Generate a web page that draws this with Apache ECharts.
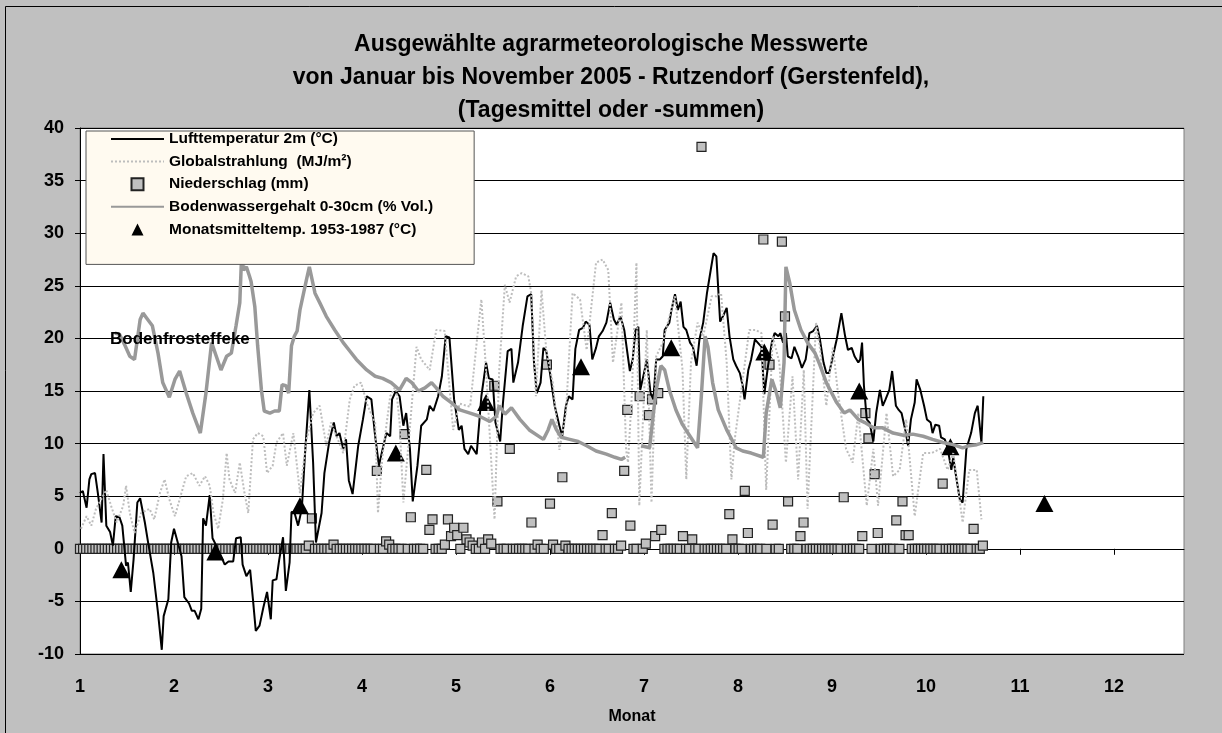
<!DOCTYPE html>
<html>
<head>
<meta charset="utf-8">
<title>Rutzendorf 2005</title>
<script src="https://cdn.jsdelivr.net/npm/echarts@6/dist/echarts.min.js"></script>
<style>
  html, body { margin: 0; padding: 0; background: #c0c0c0; }
  #chart { width: 1222px; height: 733px; }
</style>
</head>
<body>
<div id="chart"></div>
<script>
// Lufttemperatur 2m (°C) – [Monat, Wert]
var lufttemp = [
  [1.00,5.3],[1.03,5.5],[1.07,3.9],[1.10,6.6],[1.12,7.1],[1.16,7.2],[1.19,5.3],[1.23,2.5],[1.25,9.0],[1.28,2.2],
  [1.32,1.6],[1.35,0.3],[1.38,3.1],[1.42,3.0],[1.45,2.2],[1.49,-1.6],[1.51,-1.3],[1.54,-4.1],[1.57,-1.0],[1.61,4.4],
  [1.64,4.8],[1.69,2.5],[1.73,0.3],[1.78,-2.3],[1.83,-6.1],[1.87,-9.6],[1.89,-6.4],[1.94,-4.8],[1.97,0.6],[2.00,1.9],
  [2.04,0.6],[2.08,-0.7],[2.11,-4.6],[2.16,-5.2],[2.19,-5.9],[2.22,-5.9],[2.26,-6.7],[2.29,-5.7],[2.31,2.9],[2.34,2.2],
  [2.38,5.1],[2.41,1.0],[2.45,0.3],[2.49,-0.5],[2.54,-1.5],[2.58,-1.2],[2.63,-1.2],[2.66,1.0],[2.71,1.1],[2.73,-1.5],
  [2.77,-2.6],[2.81,-2.0],[2.84,-4.8],[2.87,-7.8],[2.91,-7.3],[2.95,-5.6],[2.99,-4.1],[3.03,-6.7],[3.05,-3.0],[3.09,-2.9],
  [3.12,-1.0],[3.16,1.1],[3.19,-4.0],[3.23,-1.3],[3.25,3.5],[3.28,3.5],[3.32,2.2],[3.36,3.8],[3.39,8.5],[3.44,15.1],
  [3.48,8.2],[3.51,0.6],[3.53,0.6],[3.57,3.4],[3.60,7.2],[3.65,10.1],[3.70,12.0],[3.73,10.7],[3.76,11.0],[3.80,9.5],
  [3.83,10.4],[3.86,6.5],[3.90,5.2],[3.96,9.8],[4.01,12.3],[4.05,14.5],[4.10,14.2],[4.14,10.7],[4.18,7.9],[4.22,9.5],
  [4.26,11.0],[4.30,10.7],[4.32,14.2],[4.36,15.0],[4.40,14.5],[4.44,11.7],[4.47,12.9],[4.51,9.5],[4.54,4.5],[4.59,7.9],
  [4.63,11.7],[4.69,12.3],[4.72,13.6],[4.76,13.1],[4.81,14.5],[4.85,16.4],[4.89,20.2],[4.93,20.1],[4.98,14.2],[5.03,11.3],
  [5.06,11.7],[5.09,9.5],[5.13,9.0],[5.16,9.8],[5.22,9.0],[5.27,14.5],[5.32,17.7],[5.35,16.2],[5.39,16.1],[5.42,12.0],
  [5.47,10.2],[5.50,13.9],[5.55,18.8],[5.59,19.0],[5.61,15.8],[5.66,17.7],[5.71,21.2],[5.76,24.0],[5.80,24.2],[5.83,17.7],
  [5.86,14.8],[5.90,15.8],[5.93,19.1],[5.96,18.8],[6.00,16.7],[6.05,13.6],[6.10,11.7],[6.13,10.7],[6.17,13.6],[6.20,14.5],
  [6.24,14.2],[6.27,19.0],[6.31,20.8],[6.35,21.0],[6.38,21.6],[6.42,21.3],[6.45,18.0],[6.49,19.1],[6.52,20.2],[6.56,20.7],
  [6.60,21.5],[6.64,23.4],[6.68,21.8],[6.71,21.3],[6.75,22.1],[6.79,20.8],[6.85,16.9],[6.88,18.0],[6.91,20.8],[6.94,21.1],
  [6.96,15.1],[7.00,16.7],[7.03,18.0],[7.07,14.8],[7.10,14.2],[7.13,18.0],[7.17,18.0],[7.20,18.3],[7.22,20.8],[7.27,21.5],
  [7.29,22.6],[7.33,24.2],[7.36,22.7],[7.39,23.5],[7.42,21.1],[7.45,20.8],[7.49,19.6],[7.52,19.2],[7.56,17.4],[7.59,19.9],
  [7.63,21.5],[7.67,24.3],[7.71,26.5],[7.74,28.1],[7.77,27.8],[7.81,21.6],[7.84,22.1],[7.88,22.9],[7.91,20.2],[7.95,18.0],
  [7.98,17.4],[8.02,16.7],[8.05,15.5],[8.07,14.2],[8.11,17.0],[8.14,18.0],[8.18,19.9],[8.21,19.6],[8.25,19.2],[8.28,14.7],
  [8.32,17.4],[8.36,19.6],[8.39,20.5],[8.43,20.2],[8.45,20.5],[8.48,19.6],[8.51,20.5],[8.53,18.3],[8.57,18.1],[8.60,19.2],
  [8.64,18.3],[8.68,17.2],[8.72,18.0],[8.76,20.5],[8.80,20.7],[8.84,21.2],[8.87,20.0],[8.91,17.7],[8.94,16.7],[8.97,16.7],
  [9.01,18.3],[9.05,19.9],[9.10,22.4],[9.14,20.2],[9.17,18.9],[9.21,19.1],[9.24,18.3],[9.28,17.7],[9.30,18.0],[9.32,19.6],
  [9.34,15.5],[9.37,12.3],[9.40,12.0],[9.44,10.2],[9.47,12.9],[9.51,15.1],[9.54,13.6],[9.57,14.2],[9.61,15.1],[9.64,16.9],
  [9.68,13.6],[9.71,13.2],[9.74,12.9],[9.78,11.3],[9.81,9.8],[9.84,12.3],[9.88,13.9],[9.90,16.1],[9.94,15.1],[9.98,13.6],
  [10.01,12.3],[10.05,12.0],[10.07,11.0],[10.10,11.8],[10.14,11.7],[10.16,10.6],[10.20,10.4],[10.23,9.6],[10.27,7.5],[10.29,8.7],
  [10.32,6.9],[10.36,4.7],[10.39,4.4],[10.43,9.5],[10.48,11.0],[10.52,12.9],[10.55,13.6],[10.59,10.1],[10.61,14.5]
];

// Globalstrahlung (MJ/m²)
var globalstrahlung = [
  [1.01,1.9],[1.07,3.1],[1.12,2.2],[1.17,3.8],[1.28,5.6],[1.33,4.1],[1.39,2.5],[1.46,4.1],[1.49,6.0],[1.53,3.4],
  [1.58,1.5],[1.65,3.4],[1.74,3.8],[1.79,2.8],[1.85,5.3],[1.90,6.6],[1.95,4.7],[2.01,3.1],[2.06,4.7],[2.13,6.9],
  [2.20,7.2],[2.27,6.0],[2.33,6.9],[2.38,6.0],[2.42,3.4],[2.47,1.9],[2.52,4.7],[2.56,9.1],[2.59,6.6],[2.65,5.3],
  [2.70,8.2],[2.75,5.3],[2.79,3.4],[2.84,10.4],[2.89,11.0],[2.95,10.7],[2.99,7.2],[3.05,7.9],[3.09,10.1],[3.16,11.0],
  [3.20,7.9],[3.27,11.0],[3.34,5.3],[3.41,10.4],[3.48,12.9],[3.55,13.6],[3.62,9.8],[3.67,12.0],[3.73,10.7],[3.80,9.1],
  [3.87,14.2],[3.92,15.5],[3.99,15.8],[4.06,13.6],[4.14,12.0],[4.17,3.4],[4.22,9.0],[4.30,14.5],[4.36,15.5],[4.40,12.0],
  [4.44,4.4],[4.50,10.5],[4.58,19.2],[4.63,18.0],[4.72,17.0],[4.79,20.8],[4.88,20.7],[4.97,11.3],[5.04,13.8],[5.15,13.5],
  [5.22,19.6],[5.27,23.7],[5.32,17.0],[5.41,2.8],[5.46,17.0],[5.52,25.1],[5.57,23.4],[5.64,25.9],[5.70,26.2],[5.77,25.9],
  [5.80,24.3],[5.85,14.5],[5.91,24.6],[5.96,18.9],[6.03,15.8],[6.10,9.4],[6.17,12.9],[6.24,24.3],[6.32,23.7],[6.39,18.9],
  [6.49,27.2],[6.56,27.5],[6.62,26.5],[6.67,17.7],[6.76,23.4],[6.81,9.4],[6.83,8.2],[6.87,14.5],[6.92,27.2],[6.95,4.1],
  [7.03,20.8],[7.08,4.4],[7.13,18.3],[7.20,19.6],[7.27,22.1],[7.33,24.0],[7.41,17.0],[7.45,6.6],[7.50,17.7],[7.57,21.5],
  [7.63,20.2],[7.72,24.0],[7.77,24.0],[7.82,24.3],[7.88,17.7],[7.93,6.6],[7.97,10.7],[8.12,20.8],[8.19,20.8],[8.25,20.5],
  [8.30,5.6],[8.37,20.2],[8.44,17.7],[8.51,8.2],[8.58,16.4],[8.64,6.6],[8.70,17.0],[8.74,3.8],[8.83,21.5],[8.87,19.2],
  [8.94,13.6],[9.01,19.2],[9.06,15.1],[9.15,9.5],[9.22,8.2],[9.28,12.9],[9.37,4.1],[9.44,9.5],[9.49,4.1],[9.58,12.9],
  [9.65,6.9],[9.72,7.5],[9.79,12.3],[9.88,3.1],[9.97,9.1],[10.06,9.1],[10.15,9.5],[10.23,7.5],[10.29,9.1],[10.39,2.5],
  [10.46,7.5],[10.54,7.5],[10.59,2.8]
];

// Niederschlag (mm), ein Wert pro Tag ab 1. Januar
var niederschlag = [
  0,0,0,0,0,0,0,0,0,0,  0,0,0,0,0,0,0,0,0,0,  0,0,0,0,0,0,0,0,0,0,
  0,0,0,0,0,0,0,0,0,0,  0,0,0,0,0,0,0,0,0,0,  0,0,0,0,0,0,0,0,0,0,
  0,0,0,0,0,0,0,0,0,0,  0,0,0,0,0.3,2.9,0,0,0,0,  0,0,0.4,0,0,0,0,0,0,0,
  0,0,0,0,0,0,7.4,0,0,0.7,  0.4,0,0,0,0,10.9,0,3.0,0,0,  0,0,7.5,1.8,2.8,0,0,0,0.4,2.8,
  1.2,2.0,1.3,0,2.0,0.9,0.6,0.3,0,0,  0.6,0,0.9,0.5,15.5,4.5,0,0,0,9.5,  0,0,0,0,0,0,2.5,0,0.4,0,
  0,17.5,4.3,0.4,0,0,6.8,0.3,0,0,  0,0,0,0,0,0,0,0,0,1.3,  0,0,3.4,0,0,0.3,7.4,13.2,2.2,0,
  0,14.5,0,0.5,12.7,14.2,1.2,14.8,1.8,0,  0,0,0,0,0,1.2,0,0,0.9,0,  0,38.2,0,0,0,0,0,0,0,0,
  3.3,0.9,0,0,0,5.5,1.5,0,0,0,  0,29.4,0,17.5,2.3,0,0,29.2,22.1,4.5,  0,0,0,1.2,2.5,0,0,0,0,0,
  0,0,0,0,0,0,0,4.9,0,0,  0,0,0,1.2,12.9,10.5,0,7.1,1.5,0,  0,0,0,0,2.7,0,4.5,1.3,1.3,0,
  0,0,0,0,0,0,0,0,0,6.2,  0,0,0,0,0,0,0,0,0,1.9,  0,0,0.3
];
var tageProMonat = 30.4;

// Bodenwassergehalt 0-30cm (% Vol.)
var bodenwasser = [
  [1.37,20.5],[1.42,20.4],[1.48,19.3],[1.53,18.3],[1.58,18.0],[1.64,21.8],[1.67,22.4],[1.72,21.8],[1.77,21.2],[1.83,18.6],
  [1.88,15.8],[1.95,14.4],[2.01,16.1],[2.06,16.9],[2.13,14.8],[2.20,12.9],[2.28,11.0],[2.34,14.8],[2.40,19.6],[2.45,18.3],
  [2.50,17.0],[2.56,18.3],[2.61,18.6],[2.66,21.2],[2.70,23.4],[2.72,28.0],[2.74,26.5],[2.77,26.8],[2.80,26.0],[2.82,25.4],
  [2.86,23.0],[2.89,19.3],[2.93,15.1],[2.96,13.1],[3.02,12.9],[3.07,13.1],[3.12,13.1],[3.15,15.6],[3.19,15.5],[3.22,14.8],
  [3.25,19.3],[3.28,20.2],[3.31,20.7],[3.34,22.7],[3.41,25.6],[3.44,26.8],[3.50,24.3],[3.55,23.4],[3.62,22.1],[3.71,20.8],
  [3.80,19.6],[3.87,18.8],[3.94,18.0],[4.05,17.0],[4.14,16.4],[4.22,16.2],[4.31,15.8],[4.40,15.1],[4.47,16.2],[4.53,15.8],
  [4.60,15.0],[4.67,15.3],[4.74,15.8],[4.79,15.3],[4.86,14.5],[4.95,13.9],[5.04,13.2],[5.15,12.9],[5.25,12.6],[5.36,12.1],
  [5.43,12.6],[5.46,13.6],[5.52,12.8],[5.59,13.4],[5.68,12.3],[5.78,11.3],[5.93,10.4],[5.98,11.3],[6.02,12.3],[6.07,11.3],
  [6.12,10.6],[6.21,10.4],[6.30,10.2],[6.39,9.8],[6.49,9.3],[6.60,9.0],[6.69,8.7],[6.76,8.5],[6.80,8.7],[6.88,null],
  [6.97,9.8],[7.06,9.6],[7.10,12.9],[7.13,15.1],[7.18,17.4],[7.22,17.0],[7.27,15.1],[7.34,13.2],[7.41,11.8],[7.49,10.7],
  [7.57,9.6],[7.61,14.5],[7.65,20.2],[7.68,19.2],[7.73,15.8],[7.79,13.2],[7.88,11.3],[7.98,9.6],[8.05,9.3],[8.14,9.1],
  [8.27,8.7],[8.30,12.9],[8.36,16.1],[8.41,14.8],[8.45,13.4],[8.49,17.7],[8.51,26.8],[8.55,25.3],[8.60,22.7],[8.67,20.8],
  [8.74,19.6],[8.82,18.6],[8.87,17.5],[8.94,15.8],[9.05,13.9],[9.13,12.9],[9.19,13.2],[9.28,12.3],[9.35,12.0],[9.44,11.5],
  [9.54,11.5],[9.65,11.0],[9.76,10.8],[9.86,10.9],[9.97,10.7],[10.07,10.4],[10.18,10.1],[10.29,9.9],[10.39,9.6],[10.46,9.8],
  [10.54,9.9],[10.61,10.1]
];

// Monatsmitteltemp. 1953-1987 (°C)
var mittelMonat = [1.44, 2.44, 3.34, 4.36, 5.32, 6.33, 7.29, 8.28, 9.29, 10.26, 11.26];
var mittelTemp = [-2.0, -0.3, 4.1, 9.1, 13.9, 17.3, 19.1, 18.7, 15.0, 9.7, 4.3];

var monate = [1, 2, 3, 4, 5, 6, 7, 8, 9, 10, 11, 12];

var titel = 'Ausgewählte agrarmeteorologische Messwerte\nvon Januar bis November 2005 - Rutzendorf (Gerstenfeld),\n(Tagesmittel oder -summen)';

var chart = echarts.init(document.getElementById('chart'));
var fontFam = '"Liberation Sans", Arial, sans-serif';

var niederData = niederschlag.map(function (v, i) { return [1 + i / tageProMonat, v]; });
var mittelData = mittelMonat.map(function (m, i) { return [m, mittelTemp[i]]; });

// legend line icons without the default marker
var noMarker = { color: 'rgba(0,0,0,0)', borderWidth: 0 };

chart.setOption({
  backgroundColor: '#c0c0c0',
  animation: false,
  textStyle: { fontFamily: fontFam },
  grid: {
    left: 80, right: 38, top: 128, bottom: 79,
    show: true, backgroundColor: '#fff', borderColor: '#808080', borderWidth: 1
  },
  legend: {
    orient: 'vertical',
    left: 86, top: 131,
    padding: [0, 41, 27, 24],
    itemWidth: 53, itemHeight: 12, itemGap: 6.6,
    backgroundColor: '#fffaf0',
    borderColor: '#555', borderWidth: 1,
    textStyle: { fontSize: 15.5, fontWeight: 'bold', color: '#000', fontFamily: fontFam },
    data: [
      { name: 'Lufttemperatur 2m (°C)', itemStyle: noMarker },
      { name: 'Globalstrahlung  (MJ/m²)', itemStyle: noMarker },
      { name: 'Niederschlag (mm)', icon: 'path://M0,0H10V10H0Z' },
      { name: 'Bodenwassergehalt 0-30cm (% Vol.)', itemStyle: noMarker },
      { name: 'Monatsmitteltemp. 1953-1987 (°C)', icon: 'path://M5,1L9,9H1Z' }
    ]
  },
  xAxis: {
    type: 'value',
    min: 1, max: 12.745, interval: 1,
    name: 'Monat', nameLocation: 'middle', nameGap: 55,
    nameTextStyle: { fontSize: 16, fontWeight: 'bold', color: '#000' },
    axisLine: { lineStyle: { color: '#000', width: 1 } },
    axisTick: { inside: false, length: 6, lineStyle: { color: '#000' },
      customValues: monate },
    axisLabel: {
      margin: 24, fontSize: 18, fontWeight: 'bold', color: '#000',
      customValues: monate,
      formatter: function (v) { return monate.indexOf(v) >= 0 ? String(v) : ''; }
    },
    splitLine: { show: false }
  },
  yAxis: {
    type: 'value',
    min: -10, max: 40, interval: 5,
    axisLine: { show: true, lineStyle: { color: '#000', width: 1 } },
    axisTick: { show: true, length: 5, lineStyle: { color: '#000' } },
    axisLabel: { margin: 16, fontSize: 18, fontWeight: 'bold', color: '#000' },
    splitLine: { lineStyle: { color: '#000', width: 1 } }
  },
  graphic: [
    {
      type: 'rect', z: 0, silent: true,
      shape: { x: 5.5, y: 6.5, width: 1222, height: 733 },
      style: { fill: 'none', stroke: '#000', lineWidth: 1 }
    },
    {
      type: 'text', z: 100, x: 611, y: 28, silent: true,
      style: {
        text: titel, align: 'center', verticalAlign: 'top',
        fontSize: 23, fontWeight: 'bold', lineHeight: 33, fill: '#000', fontFamily: fontFam
      }
    },
    {
      type: 'text', z: 100, x: 110, y: 331, silent: true,
      style: { text: 'Bodenfrosteffeke', fontSize: 17, fontWeight: 'bold', fill: '#000', fontFamily: fontFam }
    }
  ],
  series: [
    {
      name: 'Lufttemperatur 2m (°C)',
      type: 'line',
      data: lufttemp,
      symbol: 'none',
      lineStyle: { color: '#000', width: 2 },
      itemStyle: { color: '#000' }
    },
    {
      name: 'Globalstrahlung  (MJ/m²)',
      type: 'line',
      data: globalstrahlung,
      symbol: 'none',
      lineStyle: { color: '#bdbdbd', width: 2, type: [2, 2] },
      itemStyle: { color: '#bdbdbd' }
    },
    {
      name: 'Niederschlag (mm)',
      type: 'scatter',
      data: niederData,
      symbol: 'rect',
      symbolSize: 9,
      itemStyle: { color: '#c0c0c0', borderColor: '#222', borderWidth: 1.2, opacity: 1 }
    },
    {
      name: 'Bodenwassergehalt 0-30cm (% Vol.)',
      type: 'line',
      data: bodenwasser,
      symbol: 'none',
      connectNulls: false,
      lineStyle: { color: '#999999', width: 3.5 },
      itemStyle: { color: '#999999' }
    },
    {
      name: 'Monatsmitteltemp. 1953-1987 (°C)',
      type: 'scatter',
      data: mittelData,
      symbol: 'triangle',
      symbolSize: [18, 17],
      itemStyle: { color: '#000', opacity: 1 }
    }
  ]
});
</script>
</body>
</html>
